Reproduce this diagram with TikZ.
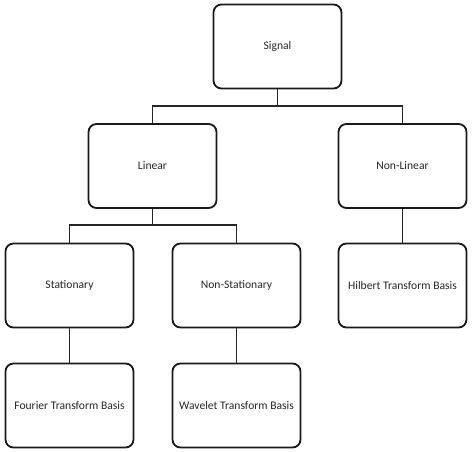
\documentclass[tikz,border=0pt]{standalone}
\usepackage{fontspec}
\setmainfont{Carlito}
\begin{document}
\begin{tikzpicture}[x=1pt,y=-1pt,
  box/.style={draw=black!90, line width=1.8pt, rounded corners=8pt, minimum width=128pt, minimum height=84pt, inner sep=0pt, font=\fontsize{11.6}{13}\selectfont, text=black!85},
  conn/.style={draw=black!85, line width=1.2pt}]
\useasboundingbox (0,0) rectangle (474,451);
\node[box] (sig) at (277.5,46.5) {Signal};
\node[box] (lin) at (152.5,166) {Linear};
\node[box] (nl) at (402.5,166) {Non-Linear};
\node[box] (st) at (69.5,285.5) {Stationary};
\node[box] (ns) at (236.5,285.5) {Non-Stationary};
\node[box] (hb) at (402.5,285.5) {Hilbert Transform Basis};
\node[box] (ft) at (69.5,405.5) {Fourier Transform Basis};
\node[box] (wt) at (236.5,405.5) {Wavelet Transform Basis};
\coordinate (j1) at (277.5,106);
\coordinate (j2) at (152.5,225);
\draw[conn] (sig.south) -- (j1);
\draw[conn] (lin.north) |- (j1) -| (nl.north);
\draw[conn] (lin.south) -- (j2);
\draw[conn] (st.north) |- (j2) -| (ns.north);
\draw[conn] (nl.south) -- (hb.north);
\draw[conn] (st.south) -- (ft.north);
\draw[conn] (ns.south) -- (wt.north);
\end{tikzpicture}
\end{document}
